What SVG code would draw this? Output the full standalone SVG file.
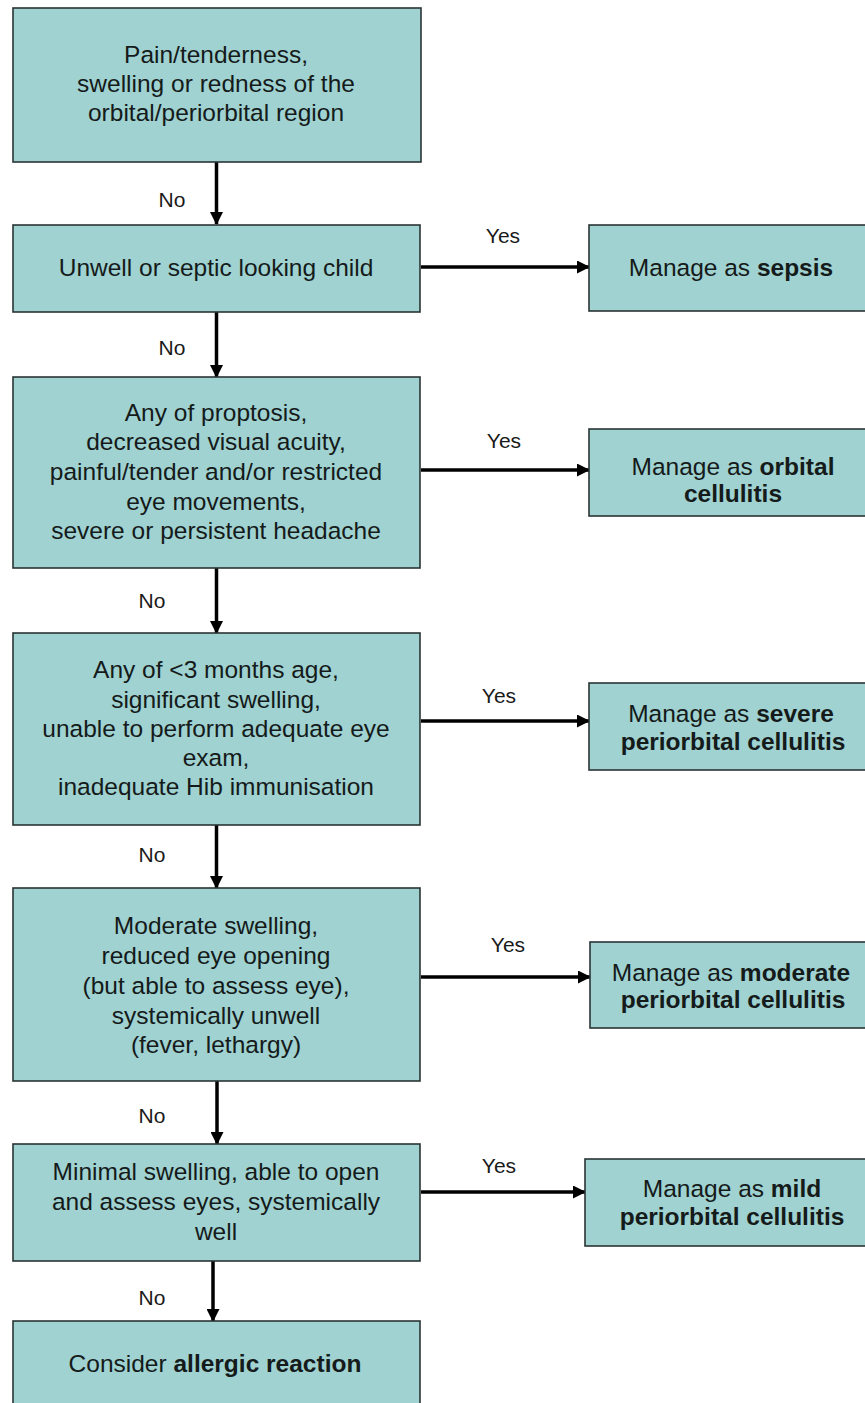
<svg xmlns="http://www.w3.org/2000/svg" width="865" height="1403" viewBox="0 0 865 1403">
<defs>
<style>
.box{fill:#9fd2d1;stroke:#2a3434;stroke-width:1.6}
.t{font-family:"Liberation Sans",Arial,sans-serif;font-size:24.5px;fill:#151a1a;text-anchor:middle}
.b{font-weight:bold}
.lbl{font-family:"Liberation Sans",Arial,sans-serif;font-size:21px;fill:#1a1a1a;text-anchor:middle}
.c{stroke:#000;stroke-width:3.5;fill:none}
</style>
<marker id="ah" markerWidth="13" markerHeight="13" refX="12" refY="6.5" orient="auto" markerUnits="userSpaceOnUse" viewBox="0 0 13 13">
<path d="M0,0 L13,6.5 L0,13 z" fill="#000"/>
</marker>
</defs>
<rect width="865" height="1403" fill="#fff"/>

<g id="connectors">
<line class="c" x1="216.5" y1="162" x2="216.5" y2="224" marker-end="url(#ah)"/>
<line class="c" x1="216.5" y1="312" x2="216.5" y2="377" marker-end="url(#ah)"/>
<line class="c" x1="216.5" y1="568" x2="216.5" y2="633" marker-end="url(#ah)"/>
<line class="c" x1="216.5" y1="825" x2="216.5" y2="888" marker-end="url(#ah)"/>
<line class="c" x1="217" y1="1081" x2="217" y2="1144" marker-end="url(#ah)"/>
<line class="c" x1="213" y1="1261" x2="213" y2="1321" marker-end="url(#ah)"/>
<line class="c" x1="421" y1="267" x2="589" y2="267" marker-end="url(#ah)"/>
<line class="c" x1="421" y1="470" x2="589" y2="470" marker-end="url(#ah)"/>
<line class="c" x1="421" y1="721" x2="589" y2="721" marker-end="url(#ah)"/>
<line class="c" x1="421" y1="977" x2="590" y2="977" marker-end="url(#ah)"/>
<line class="c" x1="421" y1="1192" x2="585" y2="1192" marker-end="url(#ah)"/>
<text class="lbl" x="172" y="207">No</text>
<text class="lbl" x="172" y="355">No</text>
<text class="lbl" x="152" y="608">No</text>
<text class="lbl" x="152" y="862">No</text>
<text class="lbl" x="152" y="1123">No</text>
<text class="lbl" x="152" y="1305">No</text>
<text class="lbl" x="503" y="243">Yes</text>
<text class="lbl" x="504" y="448">Yes</text>
<text class="lbl" x="499" y="703">Yes</text>
<text class="lbl" x="508" y="952">Yes</text>
<text class="lbl" x="499" y="1173">Yes</text>
</g>

<g id="n1">
<rect class="box" x="13" y="8" width="408" height="154"/>
<text class="t" x="216" y="63">Pain/tenderness,</text>
<text class="t" x="216" y="92">swelling or redness of the</text>
<text class="t" x="216" y="121">orbital/periorbital region</text>
</g>

<g id="n2">
<rect class="box" x="13" y="225" width="407" height="87"/>
<text class="t" x="216" y="276">Unwell or septic looking child</text>
</g>

<g id="n3">
<rect class="box" x="13" y="377" width="407" height="191"/>
<text class="t" x="216" y="421">Any of proptosis,</text>
<text class="t" x="216" y="450">decreased visual acuity,</text>
<text class="t" x="216" y="480">painful/tender and/or restricted</text>
<text class="t" x="216" y="510">eye movements,</text>
<text class="t" x="216" y="539">severe or persistent headache</text>
</g>

<g id="n4">
<rect class="box" x="13" y="633" width="407" height="192"/>
<text class="t" x="216" y="678">Any of &lt;3 months age,</text>
<text class="t" x="216" y="708">significant swelling,</text>
<text class="t" x="216" y="737">unable to perform adequate eye</text>
<text class="t" x="216" y="766">exam,</text>
<text class="t" x="216" y="795">inadequate Hib immunisation</text>
</g>

<g id="n5">
<rect class="box" x="13" y="888" width="407" height="193"/>
<text class="t" x="216" y="934">Moderate swelling,</text>
<text class="t" x="216" y="964">reduced eye opening</text>
<text class="t" x="216" y="994">(but able to assess eye),</text>
<text class="t" x="216" y="1024">systemically unwell</text>
<text class="t" x="216" y="1053">(fever, lethargy)</text>
</g>

<g id="n6">
<rect class="box" x="13" y="1144" width="407" height="117"/>
<text class="t" x="216" y="1180">Minimal swelling, able to open</text>
<text class="t" x="216" y="1210">and assess eyes, systemically</text>
<text class="t" x="216" y="1240">well</text>
</g>

<g id="n7">
<rect class="box" x="13" y="1321" width="407" height="90"/>
<text class="t" x="215" y="1372">Consider <tspan class="b">allergic reaction</tspan></text>
</g>

<g id="r1">
<rect class="box" x="589" y="225" width="290" height="86"/>
<text class="t" x="731" y="276">Manage as <tspan class="b">sepsis</tspan></text>
</g>

<g id="r2">
<rect class="box" x="589" y="429" width="290" height="87"/>
<text class="t" x="733" y="475">Manage as <tspan class="b">orbital</tspan></text>
<text class="t b" x="733" y="502">cellulitis</text>
</g>

<g id="r3">
<rect class="box" x="589" y="683" width="290" height="87"/>
<text class="t" x="731" y="722">Manage as <tspan class="b">severe</tspan></text>
<text class="t b" x="733" y="750">periorbital cellulitis</text>
</g>

<g id="r4">
<rect class="box" x="590" y="942" width="290" height="86"/>
<text class="t" x="731" y="981">Manage as <tspan class="b">moderate</tspan></text>
<text class="t b" x="733" y="1008">periorbital cellulitis</text>
</g>

<g id="r5">
<rect class="box" x="585" y="1159" width="294" height="87"/>
<text class="t" x="732" y="1197">Manage as <tspan class="b">mild</tspan></text>
<text class="t b" x="732" y="1225">periorbital cellulitis</text>
</g>
</svg>
